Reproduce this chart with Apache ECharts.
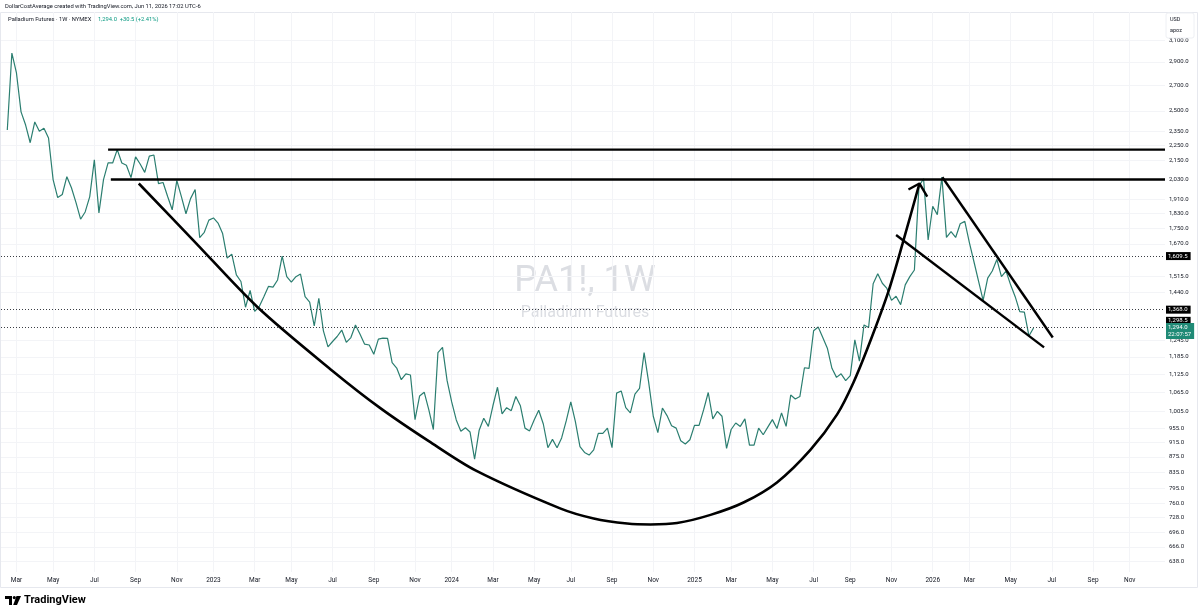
<!DOCTYPE html>
<html>
<head>
<meta charset="utf-8">
<title>Palladium Futures - 1W - NYMEX</title>
<script src="https://cdn.jsdelivr.net/npm/echarts@6/dist/echarts.min.js"></script>
<style>
  html, body { margin: 0; padding: 0; background: #fff; }
  #chart { width: 1200px; height: 614px; }
</style>
</head>
<body>
<div id="chart"></div>
<script>
// weekly closes (USD), first bar = week of 2022-02-21, one value per week
const closes = [
  2360, 2980, 2805, 2493, 2395, 2270, 2418, 2350, 2372, 2303,
  2030, 1922, 1940, 2048, 1980, 1893, 1800, 1840, 1928, 2155,
  1835, 2030, 2135, 2135, 2223, 2135, 2120, 2042, 2175, 2128,
  2075, 2180, 2187, 2005, 2012, 1928, 1852, 2024, 1928, 1830,
  1916, 1970, 1702, 1730, 1795, 1807, 1779, 1723, 1600, 1619,
  1520, 1490, 1378, 1450, 1361, 1381, 1423, 1468, 1465, 1497,
  1609, 1512, 1487, 1512, 1524, 1423, 1400, 1302, 1416, 1283,
  1222, 1242, 1261, 1286, 1239, 1257, 1306, 1270, 1232, 1229,
  1195, 1251, 1255, 1254, 1165, 1146, 1106, 1126, 1122, 980,
  1053, 1065, 1010, 951, 1201, 1220, 1103, 1034, 979, 946,
  956, 944, 869, 949, 984, 960, 1022, 1081, 997, 1016,
  1007, 1051, 1022, 955, 947, 979, 1008, 967, 900, 923,
  900, 927, 976, 1034, 974, 903, 887, 880, 894, 940,
  940, 955, 900, 1062, 1069, 1016, 1000, 1059, 1077, 1201,
  1097, 990, 942, 1015, 992, 962, 955, 919, 910, 922,
  963, 963, 1010, 1064, 982, 1005, 990, 898, 951, 970,
  960, 982, 907, 907, 955, 936, 958, 980, 954, 1000,
  960, 1056, 1043, 1051, 1147, 1145, 1283, 1298, 1257, 1217,
  1145, 1114, 1126, 1103, 1120, 1248, 1170, 1306, 1296, 1480,
  1525, 1482, 1459, 1407, 1425, 1389, 1475, 1512, 1543, 1990,
  2035, 1690, 1872, 1825, 2045, 1703, 1733, 1703, 1775, 1788,
  1677, 1582, 1492, 1407, 1505, 1538, 1593, 1512, 1538, 1475,
  1423, 1360, 1358, 1263, 1294
]

// drawings, as [week index, price]
const cupCurve = [
  [28.7, 2006], [40.5, 1691], [54.7, 1377], [71.0, 1136], [81.5, 1014],
  [92.0, 918], [102.2, 840], [120.8, 748], [128.0, 726], [135.3, 715],
  [140.4, 713], [146.2, 716], [153.5, 734], [160.7, 762], [168.0, 810],
  [175.3, 894], [181.1, 995], [184.7, 1097], [188.4, 1245], [192.3, 1444],
  [195.4, 1670], [199.1, 2006]
]
const arrowHead = [[196.7, 1970], [199.1, 2006], [200.8, 1928]]
const upperTrend = [[204.1, 2044], [228.2, 1257]]
const lowerTrend = [[194.0, 1716], [226.3, 1220]]
const resistTop = [[22.0, 2223], [252.7, 2223]]
const resistMid = [[22.6, 2030], [252.7, 2030]]

const priceLines = [1609.5, 1368.0, 1298.5]
const lastPrice = 1294.0
const countdown = '22:07:57'

const priceTicks = [638, 666, 696, 728, 760, 795, 835, 875, 915, 955, 1005, 1065, 1125,
  1185, 1245, 1440, 1515, 1670, 1750, 1830, 1910, 2030, 2150, 2250, 2350, 2500, 2700, 2900, 3100]
const monthNames = ['Jan', 'Feb', 'Mar', 'Apr', 'May', 'Jun', 'Jul', 'Aug', 'Sep', 'Oct', 'Nov', 'Dec']

// x is the bar index (one bar per week), like the TradingView time scale
const DAY = 86400000
const startTime = Date.UTC(2022, 1, 21)
const weekDate = w => new Date(startTime + Math.round(w) * 7 * DAY)

const xMin = -1.374
const xMax = 252.7

// labels sit on the first weekly bar of every other month
function monthTicks() {
  const out = []
  for (let y = 2022; y <= 2026; y++) {
    for (let m = 0; m < 12; m += 2) {
      const d = new Date(Date.UTC(y, m, 1))
      while (d.getUTCDay() !== 1) d.setUTCDate(d.getUTCDate() + 1)
      out.push(Math.round((d.getTime() - startTime) / (7 * DAY)))
    }
  }
  return out.filter(w => w >= xMin && w <= xMax)
}
const weekTicks = monthTicks()

const FONT = 'Roboto, "Noto Sans", sans-serif'
const TEXT = '#131722'
const LINE = '#2b7e70'
const GREEN = '#1f8a76'
const fmtPrice = v => Number(v).toLocaleString('en-US', { minimumFractionDigits: 1, maximumFractionDigits: 1 })

const drawing = (name, data, width, smooth) => ({
  name,
  type: 'line',
  data,
  symbol: 'none',
  smooth: smooth || false,
  silent: true,
  z: 5,
  lineStyle: { color: '#000', width },
  emphasis: { disabled: true }
})

const tag = (value, offset) => ({
  yAxis: value,
  label: {
    show: true,
    position: 'end',
    distance: 1,
    offset: offset || [0, 0],
    formatter: fmtPrice(value),
    color: '#fff',
    backgroundColor: '#000',
    fontFamily: FONT,
    fontSize: 6,
    padding: [1, 3, 1, 2]
  }
})

const chart = echarts.init(document.getElementById('chart'))

chart.setOption({
  animation: false,
  backgroundColor: '#fff',
  grid: { left: 1, right: 35, top: 12, bottom: 42 },
  xAxis: {
    type: 'value',
    min: xMin,
    max: xMax,
    axisLine: { show: false },
    axisTick: { show: false, customValues: weekTicks },
    splitLine: { show: true, lineStyle: { color: '#f3f4f7', width: 1 } },
    axisLabel: {
      customValues: weekTicks,
      color: TEXT,
      fontFamily: FONT,
      fontSize: 6.5,
      margin: 5,
      formatter: v => {
        const d = weekDate(v)
        return d.getUTCMonth() === 0 ? String(d.getUTCFullYear()) : monthNames[d.getUTCMonth()]
      }
    }
  },
  yAxis: {
    type: 'log',
    position: 'right',
    min: 617.2,
    max: 3375,
    axisLine: { show: false },
    axisTick: { show: false, customValues: priceTicks },
    splitLine: { show: true, lineStyle: { color: '#f3f4f7', width: 1 } },
    axisLabel: {
      customValues: priceTicks,
      color: TEXT,
      fontFamily: FONT,
      fontSize: 6,
      margin: 4,
      formatter: v => fmtPrice(v)
    }
  },
  series: [
    {
      name: 'PA1!',
      type: 'line',
      data: closes.map((v, i) => [i, v]),
      symbol: 'none',
      z: 3,
      lineStyle: { color: LINE, width: 1.2 },
      emphasis: { disabled: true },
      markLine: {
        silent: true,
        symbol: 'none',
        lineStyle: { color: '#3a3d44', width: 1, type: [1, 2] },
        data: [
          tag(priceLines[0]),
          tag(priceLines[1]),
          tag(priceLines[2], [0, -6]),
          {
            yAxis: lastPrice,
            lineStyle: { color: 'rgba(0,0,0,0)' },
            label: {
              show: true,
              position: 'end',
              distance: 1,
              offset: [0, 3],
              formatter: fmtPrice(lastPrice) + '\n' + countdown,
              color: '#fff',
              backgroundColor: GREEN,
              fontFamily: FONT,
              fontSize: 6,
              lineHeight: 7,
              padding: [1, 3, 1, 2]
            }
          }
        ]
      }
    },
    drawing('cup', cupCurve, 2.6, 0.3),
    drawing('arrow', arrowHead, 2.4),
    drawing('upper', upperTrend, 2.4),
    drawing('lower', lowerTrend, 2.4),
    drawing('top', resistTop, 2.4),
    drawing('mid', resistMid, 2.4)
  ],
  graphic: [
    {
      type: 'rect', silent: true, z: -10,
      shape: { x: 0.5, y: 12.5, width: 1197, height: 575 },
      style: { fill: null, stroke: '#e6e8ee', lineWidth: 1 }
    },
    {
      type: 'text', silent: true, z: 0,
      style: { x: 585, y: 282, text: 'PA1!, 1W', textAlign: 'center', textVerticalAlign: 'middle',
        font: '36px ' + FONT, fill: '#dcdee3' }
    },
    {
      type: 'text', silent: true, z: 0,
      style: { x: 585, y: 313, text: 'Palladium Futures', textAlign: 'center', textVerticalAlign: 'middle',
        font: '16px ' + FONT, fill: '#dcdee3' }
    },
    {
      type: 'text', silent: true,
      style: { x: 5, y: 7, text: 'DollarCostAverage created with TradingView.com, Jun 11, 2026 17:02 UTC-6',
        textVerticalAlign: 'middle', font: '5.8px ' + FONT, fill: TEXT }
    },
    {
      type: 'text', silent: true, z: 20,
      style: {
        x: 8, y: 20, textVerticalAlign: 'middle',
        text: '{a|Palladium Futures · 1W · NYMEX}  {b|1,294.0  +30.5 (+2.41%)}',
        rich: {
          a: { fontFamily: FONT, fontSize: 5.8, fill: TEXT },
          b: { fontFamily: FONT, fontSize: 5.8, fill: '#089981' }
        }
      }
    },
    {
      type: 'rect', silent: true, z: 20,
      shape: { x: 1166, y: 13, width: 28, height: 25, r: 2 },
      style: { fill: '#fff', stroke: '#eef0f4', lineWidth: 1 }
    },
    {
      type: 'text', silent: true, z: 21,
      style: { x: 1170, y: 20, text: 'USD', textVerticalAlign: 'middle', font: '5.5px ' + FONT, fill: TEXT }
    },
    {
      type: 'text', silent: true, z: 21,
      style: { x: 1170, y: 31, text: 'apoz', textVerticalAlign: 'middle', font: '5.5px ' + FONT, fill: TEXT }
    },
    // TradingView logo
    {
      type: 'group', silent: true,
      children: [
        { type: 'rect', shape: { x: 5, y: 596, width: 7, height: 3 }, style: { fill: '#000' } },
        { type: 'rect', shape: { x: 9, y: 596, width: 3, height: 9 }, style: { fill: '#000' } },
        { type: 'circle', shape: { cx: 14.3, cy: 597.6, r: 1.6 }, style: { fill: '#000' } },
        { type: 'polygon', shape: { points: [[16.5, 596], [21, 596], [17, 605], [13.2, 605]] }, style: { fill: '#000' } },
        {
          type: 'text',
          style: { x: 24, y: 600.5, text: 'TradingView', textVerticalAlign: 'middle',
            font: 'bold 11px ' + FONT, fill: '#000' }
        }
      ]
    }
  ]
})
</script>
</body>
</html>
